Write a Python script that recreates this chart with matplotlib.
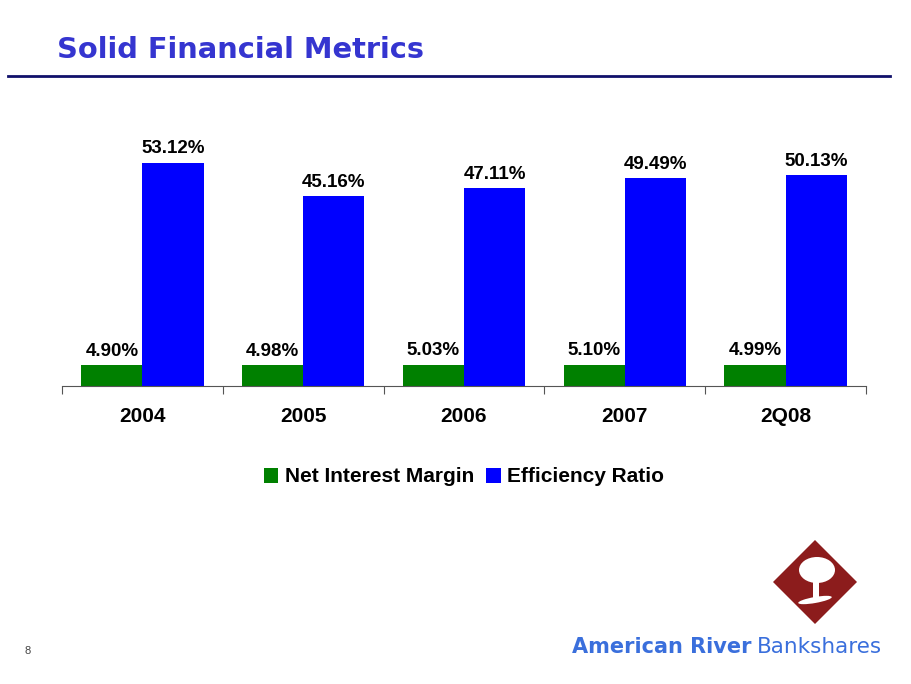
import matplotlib
matplotlib.use('Agg')
import matplotlib.pyplot as plt
from matplotlib.patches import Patch, Polygon, Ellipse, Rectangle
import numpy as np

# chart data
categories = ['2004', '2005', '2006', '2007', '2Q08']
net_interest_margin = [4.90, 4.98, 5.03, 5.10, 4.99]
efficiency_ratio = [53.12, 45.16, 47.11, 49.49, 50.13]
series_names = ['Net Interest Margin', 'Efficiency Ratio']

GREEN = '#008000'
BLUE = '#0000FF'
TITLE_BLUE = '#3535D0'
LOGO_RED = '#8C1C1C'
LOGO_BLUE = '#3A6FDC'

plt.rcParams['font.family'] = ['Liberation Sans', 'DejaVu Sans']

fig = plt.figure(figsize=(9.12, 6.84), dpi=100)

# title + rule
fig.text(57 / 912, 1 - 50 / 684, 'Solid Financial Metrics', fontsize=20.8, fontweight='bold',
         color=TITLE_BLUE, family='DejaVu Sans', va='center', ha='left')
fig.add_artist(plt.Line2D([8 / 912, 890 / 912], [1 - 76 / 684, 1 - 76 / 684],
                          color='#10106A', linewidth=2.0))

ax = fig.add_axes([62 / 912, 1 - 386 / 684, 804 / 912, 252 / 684])

x = np.arange(len(categories))
width = 0.38
ax.bar(x - width / 2, net_interest_margin, width, color=GREEN, label=series_names[0])
ax.bar(x + width / 2, efficiency_ratio, width, color=BLUE, label=series_names[1])

for xi, v in zip(x, net_interest_margin):
    ax.annotate('{:.2f}%'.format(v), (xi - width / 2, v), xytext=(0, 4),
                textcoords='offset points', ha='center', va='bottom',
                fontsize=13.5, fontweight='bold')
for xi, v in zip(x, efficiency_ratio):
    ax.annotate('{:.2f}%'.format(v), (xi + width / 2, v), xytext=(0, 4),
                textcoords='offset points', ha='center', va='bottom',
                fontsize=13.5, fontweight='bold')

ax.set_xlim(-0.5, len(categories) - 0.5)
ax.set_ylim(0, 60)
for s in ['top', 'right', 'left']:
    ax.spines[s].set_visible(False)
ax.spines['bottom'].set_color('#555555')
ax.set_yticks([])
ax.set_xticks(np.arange(len(categories) + 1) - 0.5)
ax.set_xticklabels([])
ax.tick_params(axis='x', which='major', direction='out', length=6, color='#555555')
ax.set_xticks(x, minor=True)
ax.set_xticklabels(categories, minor=True, fontsize=15, fontweight='bold')
ax.tick_params(axis='x', which='minor', length=0, pad=15)

handles = [Patch(facecolor=GREEN, label=series_names[0]),
           Patch(facecolor=BLUE, label=series_names[1])]
fig.legend(handles=handles, loc='center', bbox_to_anchor=(464 / 912, 1 - 477 / 684),
           ncol=2, frameon=False, prop={'size': 15, 'weight': 'bold'},
           handlelength=0.7, handleheight=0.7, handletextpad=0.3, columnspacing=0.6)

# page number
fig.text(28 / 912, 1 - 651 / 684, '8', fontsize=8, color='#444444', ha='center', va='center')

# logo
lax = fig.add_axes([0, 0, 1, 1], zorder=-1)
lax.set_xlim(0, 912)
lax.set_ylim(684, 0)
lax.axis('off')
cx, cy, r = 815, 582, 42
lax.add_patch(Polygon([[cx, cy - r], [cx + r, cy], [cx, cy + r], [cx - r, cy]],
                      closed=True, facecolor=LOGO_RED, edgecolor='none'))
lax.add_patch(Ellipse((cx + 2, cy - 12), 36, 26, facecolor='white', edgecolor='none'))
lax.add_patch(Rectangle((cx - 2, cy - 4), 6, 20, facecolor='white', edgecolor='none'))
lax.add_patch(Ellipse((cx, cy + 18), 34, 6, angle=-10, facecolor='white', edgecolor='none'))
fig.text(572 / 912, 1 - 647 / 684, 'American River', fontsize=15, fontweight='bold',
         color=LOGO_BLUE, family='DejaVu Sans', va='center', ha='left')
fig.text(757 / 912, 1 - 647 / 684, 'Bankshares', fontsize=15.5,
         color=LOGO_BLUE, family='DejaVu Sans', va='center', ha='left')

fig.savefig('out.png', dpi=100)
